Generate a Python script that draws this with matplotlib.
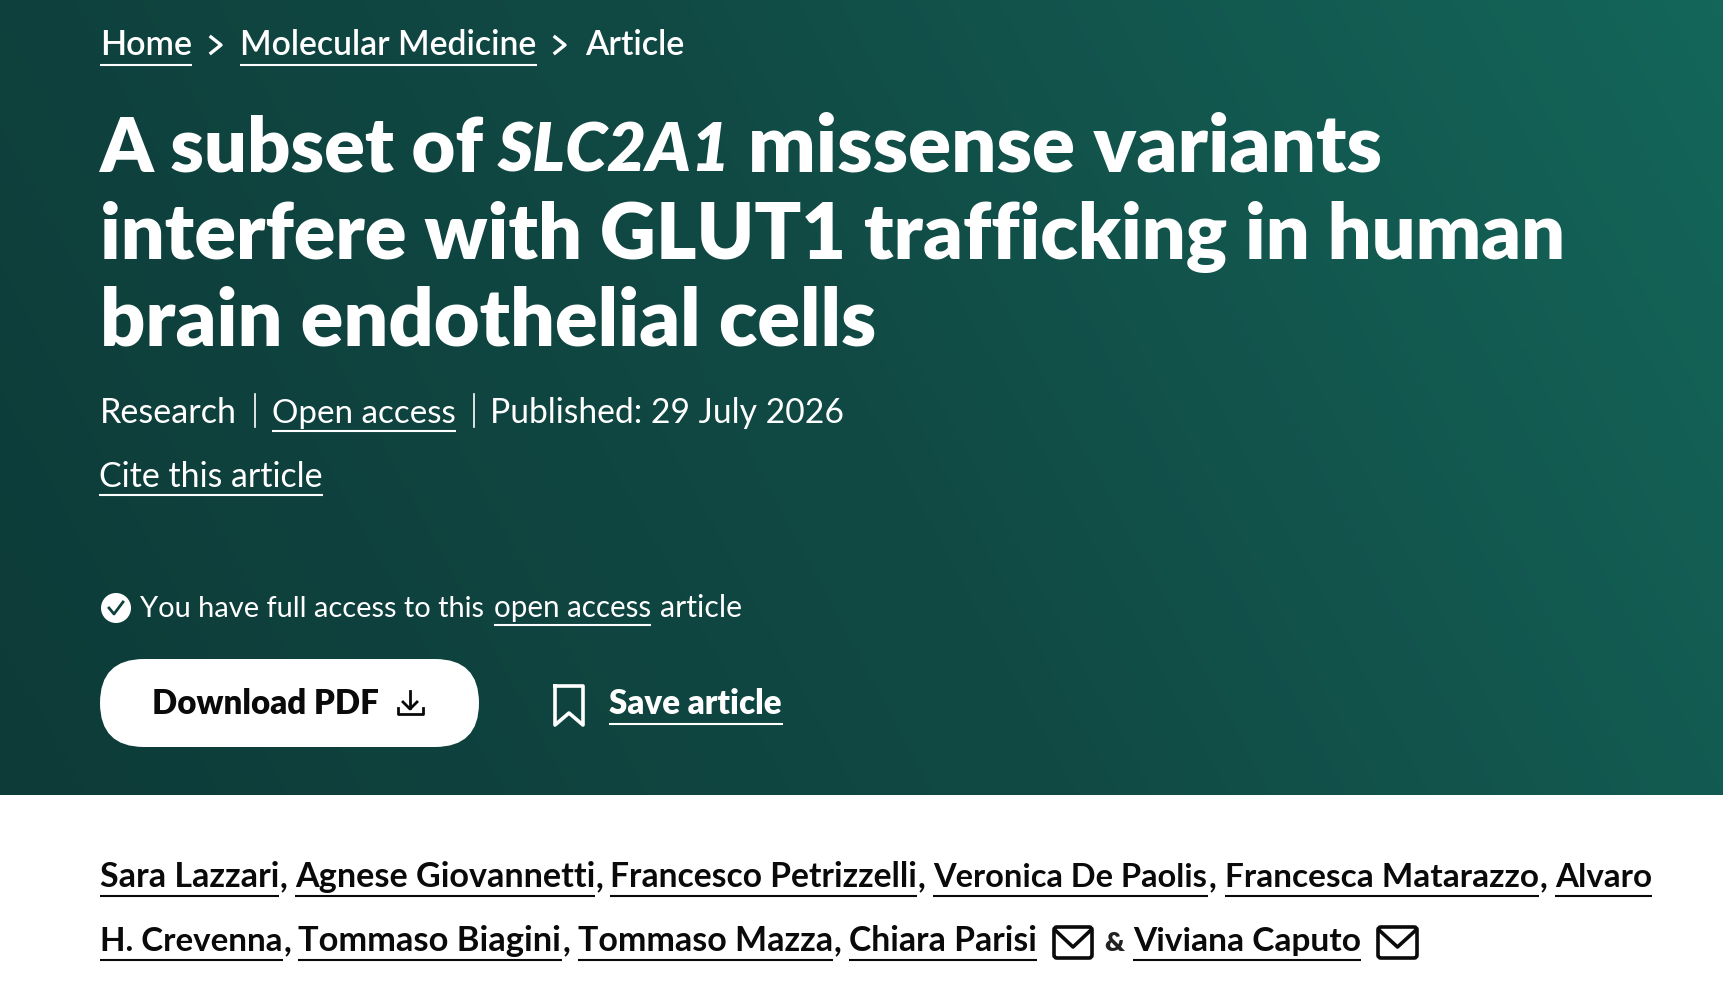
import matplotlib

matplotlib.use("Agg")
import matplotlib.pyplot as plt
import numpy as np
from matplotlib.colors import LinearSegmentedColormap
from matplotlib.patches import Circle, FancyBboxPatch

FONT = "Lato"
INK = "#0a0a0a"

# text, left, right, baseline, underlined
breadcrumbs = [
    ("Home", 100, 192, 55, True),
    ("Molecular Medicine", 240, 537, 55, True),
    ("Article", 585, 685, 55, False),
]
title_runs = [
    ("A subset of", 100, 484, 172, "normal"),
    ("SLC2A1", 498, 731, 172, "italic"),
    ("missense variants", 748, 1383, 172, "normal"),
    ("interfere with GLUT1 trafficking in human", 100, 1565, 259, "normal"),
    ("brain endothelial cells", 100, 878, 345, "normal"),
]
meta_runs = [
    ("Research", 100, 237, 423, False),
    ("Open access", 272, 456, 423, True),
    ("Published: 29 July 2026", 490, 844, 423, False),
    ("Cite this article", 99, 323, 487, True),
    ("You have full access to this", 140, 485, 617, False),
    ("open access", 494, 651, 617, True),
    ("article", 660, 742, 617, False),
]
authors_1 = [
    ("Sara Lazzari", 100, 279),
    ("Agnese Giovannetti", 295, 595),
    ("Francesco Petrizzelli", 610, 917),
    ("Veronica De Paolis", 933, 1208),
    ("Francesca Matarazzo", 1225, 1539),
    ("Alvaro", 1555, 1652),
]
authors_2 = [
    ("H. Crevenna", 100, 283),
    ("Tommaso Biagini", 298, 562),
    ("Tommaso Mazza", 578, 833),
    ("Chiara Parisi", 849, 1037),
]

fig = plt.figure(figsize=(17.24, 10), dpi=100)
ax = fig.add_axes([0, 0, 1, 1])
ax.set_xlim(0, 1724)
ax.set_ylim(1000, 0)
ax.axis("off")

# page header background
xx, yy = np.meshgrid(np.linspace(0, 1, 430), np.linspace(0, 1, 200))
grad = xx * 0.8 + (1 - yy) * 0.2
cmap = LinearSegmentedColormap.from_list("hero", ["#0d3b38", "#114a45", "#14665a"])
ax.imshow(grad, cmap=cmap, extent=(0, 1724, 795, 0), aspect="auto", zorder=0, vmin=0, vmax=1)
ax.set_xlim(0, 1724)
ax.set_ylim(1000, 0)

renderer = fig.canvas.get_renderer()


def put(text, left, right, base, size, color="white", weight="normal", style="normal"):
    t = ax.text(left, base, text, color=color, fontsize=size, fontweight=weight, fontstyle=style,
                family=FONT, ha="left", va="baseline", zorder=3)
    # match the measured run width
    w = t.get_window_extent(renderer).width
    t.set_fontsize(size * (right - left) / w)
    return t


def rule(x0, x1, y, color="white", lw=1.5):
    ax.plot([x0, x1], [y, y], color=color, lw=lw, solid_capstyle="butt", zorder=3)


def envelope(x0, x1, y0, y1):
    ax.add_patch(FancyBboxPatch((x0 + 2, y0 + 2), x1 - x0 - 4, y1 - y0 - 4, boxstyle="round,pad=0,rounding_size=3",
                                fc="none", ec=INK, lw=2.6, zorder=3))
    ax.plot([x0 + 3, (x0 + x1) / 2, x1 - 3], [y0 + 5, y0 + 22, y0 + 5], color=INK, lw=2.6, zorder=3)


for text, left, right, base, link in breadcrumbs:
    put(text, left, right, base, 23.5, weight="semibold")
    if link:
        rule(left, right, 65)
for cx in (211, 555):
    ax.plot([cx, cx + 10, cx], [37, 45, 53], color="white", lw=2.4, zorder=3)

for text, left, right, base, style in title_runs:
    put(text, left, right, base, 53, weight="heavy", style=style)

for text, left, right, base, link in meta_runs:
    put(text, left, right, base, 24)
    if link:
        rule(left, right, base + 8)
for sx in (255, 474):
    ax.plot([sx, sx], [394, 427], color="white", lw=1.2, zorder=3)

# access tick
ax.add_patch(Circle((116, 608), 15, fc="white", ec="none", zorder=3))
ax.plot([109, 114, 123], [608, 614, 602], color="#0f413c", lw=2, zorder=4)

# download button
ax.add_patch(FancyBboxPatch((100, 659), 379, 88, boxstyle="round,pad=0,rounding_size=44",
                            fc="white", ec="none", zorder=2))
put("Download PDF", 152, 379, 714, 24, color=INK, weight="heavy")
ax.plot([410, 410], [691, 708], color=INK, lw=2, zorder=3)
ax.plot([403, 410, 417], [702, 709, 702], color=INK, lw=2, zorder=3)
ax.plot([398, 398, 423, 423], [708, 714, 714, 708], color=INK, lw=2, zorder=3)

# bookmark
ax.plot([555, 555, 569, 583, 583, 555], [686, 725, 713, 725, 686, 686], color="white", lw=2.6,
        solid_joinstyle="round", zorder=3)
put("Save article", 609, 782, 714, 24, weight="heavy")
rule(609, 783, 724)

for names, base in ((authors_1, 887), (authors_2, 951)):
    for i, (name, left, right) in enumerate(names):
        put(name, left, right, base, 24.5, color=INK, weight="bold")
        rule(left, right, base + 9, color=INK)
        if i < len(names) - 1 or names is authors_2 and name != "Chiara Parisi":
            ax.text(right + 1, base, ",", color=INK, fontsize=24, family=FONT, fontweight="bold",
                    va="baseline", zorder=3)

envelope(1052, 1094, 925, 960)
put("&", 1104, 1124, 951, 22, color="#222222", weight="heavy")
put("Viviana Caputo", 1133, 1361, 951, 24.5, color=INK, weight="bold")
rule(1133, 1361, 960, color=INK)
envelope(1376, 1419, 925, 960)

fig.savefig("out.png", dpi=100)
